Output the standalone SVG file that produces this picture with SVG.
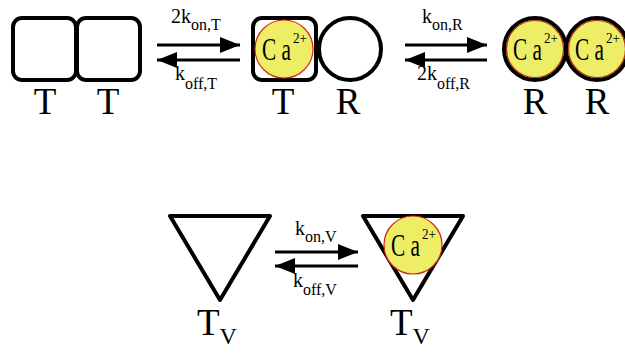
<svg xmlns="http://www.w3.org/2000/svg" width="625" height="353" viewBox="0 0 625 353">
<defs>
<style>
.shape{fill:#fff;stroke:#000;stroke-width:4;stroke-linejoin:round}
.ca{fill:#eeee66;stroke:#d02818;stroke-width:1.2}
.caB{fill:#eeee66;stroke:#000;stroke-width:4}
.caR{fill:none;stroke:#b03010;stroke-width:1.2}
text{font-family:'Liberation Serif','DejaVu Serif',serif;fill:#000}
.big{font-size:37px}
.lab{font-size:20px}
.sub{font-size:16px}
.ion{font-size:32px}
.ionsup{font-size:15px}
.arr{stroke:#000;stroke-width:3;fill:none}
</style>
<marker id="ah" viewBox="0 0 20 16" refX="20" refY="8" markerWidth="20" markerHeight="16" markerUnits="userSpaceOnUse" orient="auto">
<path d="M0,0 L20,8 L0,16 Z" fill="#000"/>
</marker>
<g id="ion">
<text class="ion" x="-22" y="11" textLength="29" lengthAdjust="spacingAndGlyphs">C a</text>
<text class="ionsup" x="9" y="-6" textLength="14" lengthAdjust="spacingAndGlyphs">2+</text>
</g>
</defs>

<g id="node-TT">
<rect class="shape" x="13" y="18" width="63" height="62" rx="9"/>
<rect class="shape" x="77" y="18" width="63" height="62" rx="9"/>
<text class="big" x="45" y="114" text-anchor="middle">T</text>
<text class="big" x="108" y="114" text-anchor="middle">T</text>
</g>

<g id="node-TR">
<rect class="shape" x="253" y="18" width="63" height="62" rx="9"/>
<circle class="ca" cx="284" cy="49" r="29"/>
<use href="#ion" x="284" y="49"/>
<circle class="shape" cx="350" cy="49" r="31"/>
<text class="big" x="283" y="114" text-anchor="middle">T</text>
<text class="big" x="348" y="114" text-anchor="middle">R</text>
</g>

<g id="node-RR">
<circle class="caB" cx="535" cy="49" r="31"/>
<circle class="caR" cx="535" cy="49" r="28.5"/>
<use href="#ion" x="535" y="49"/>
<circle class="caB" cx="597" cy="49" r="31"/>
<circle class="caR" cx="597" cy="49" r="28.5"/>
<use href="#ion" x="597" y="49"/>
<text class="big" x="535" y="114" text-anchor="middle">R</text>
<text class="big" x="597" y="114" text-anchor="middle">R</text>
</g>

<g id="node-Tv">
<path class="shape" d="M170,216 L270,216 L220,300 Z"/>
<text x="197" y="335"><tspan font-size="37">T</tspan><tspan font-size="24" dy="9">V</tspan></text>
</g>

<g id="node-TvCa">
<path class="shape" d="M363,216 L463,216 L413,300 Z"/>
<circle class="ca" cx="413" cy="245" r="29"/>
<use href="#ion" x="413" y="245"/>
<text x="390" y="335"><tspan font-size="37">T</tspan><tspan font-size="24" dy="9">V</tspan></text>
</g>

<g id="connectors">
<line class="arr" x1="157" y1="45" x2="240" y2="45" marker-end="url(#ah)"/>
<line class="arr" x1="240" y1="60" x2="157" y2="60" marker-end="url(#ah)"/>
<line class="arr" x1="405" y1="45" x2="487" y2="45" marker-end="url(#ah)"/>
<line class="arr" x1="487" y1="60" x2="405" y2="60" marker-end="url(#ah)"/>
<line class="arr" x1="275" y1="252" x2="358" y2="252" marker-end="url(#ah)"/>
<line class="arr" x1="358" y1="266" x2="275" y2="266" marker-end="url(#ah)"/>
<text class="lab" x="171" y="23">2k<tspan class="sub" dy="7">on,T</tspan></text>
<text class="lab" x="175" y="80">k<tspan class="sub" dy="9">off,T</tspan></text>
<text class="lab" x="422" y="23">k<tspan class="sub" dy="7">on,R</tspan></text>
<text class="lab" x="417" y="80">2k<tspan class="sub" dy="9">off,R</tspan></text>
<text class="lab" x="295" y="235">k<tspan class="sub" dy="7">on,V</tspan></text>
<text class="lab" x="293" y="287">k<tspan class="sub" dy="8">off,V</tspan></text>
</g>
</svg>
